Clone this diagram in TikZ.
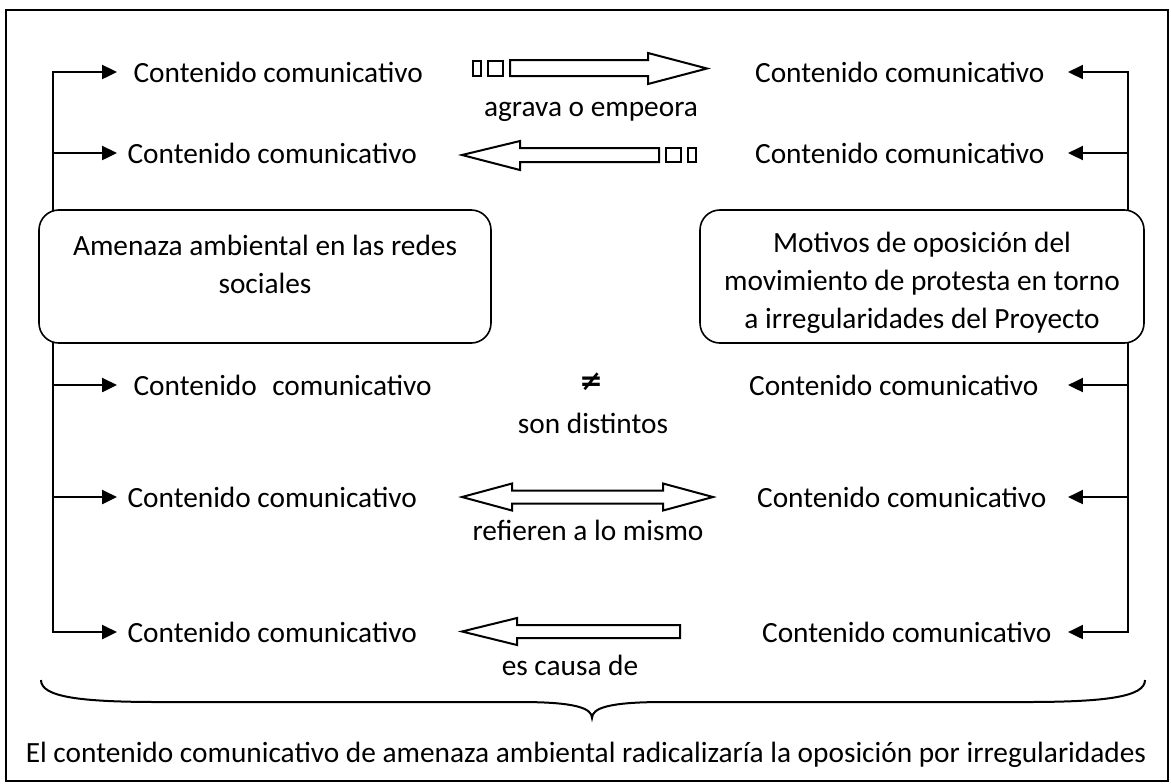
\documentclass[tikz,border=0pt]{standalone}
\usepackage{fontspec}
\setmainfont{Carlito}
\newfontfamily\dejavu{DejaVu Sans}
\usetikzlibrary{arrows.meta}
\begin{document}
\begin{tikzpicture}[x=0.375pt,y=-0.375pt,
  font=\fontsize{11pt}{14.25pt}\selectfont,
  conn/.style={line width=1pt,line cap=rect},
  arr/.style={line width=1pt,-{Triangle[length=5.6pt,width=5.2pt]}},
  lbl/.style={inner sep=0pt},
  rbox/.style={draw,line width=0.6pt,rounded corners=7.5pt,fill=white,inner sep=0pt},
  btext/.style={inner sep=0pt,align=center},
  blk/.style={draw,line width=0.75pt,fill=white,line join=miter},
  frame/.style={draw,line width=0.75pt}]
\useasboundingbox (0,0) rectangle (1171,783);
\draw[frame] (6,10) rectangle (1168,781);

% left column
\coordinate (La) at (53,72);
\coordinate (Lb) at (53,153);
\coordinate (Lc) at (53,385);
\coordinate (Ld) at (53,497);
\coordinate (Le) at (53,632);
\coordinate (Lta) at (117,72);
\coordinate (Ltb) at (117,153);
\coordinate (Ltc) at (117,385);
\coordinate (Ltd) at (117,497);
\coordinate (Lte) at (117,632);
% right column
\coordinate (Ra) at (1128,72);
\coordinate (Rb) at (1128,153);
\coordinate (Rc) at (1128,385);
\coordinate (Rd) at (1128,497);
\coordinate (Re) at (1128,632);
\coordinate (Rta) at (1068,72);
\coordinate (Rtb) at (1068,153);
\coordinate (Rtc) at (1068,385);
\coordinate (Rtd) at (1068,497);
\coordinate (Rte) at (1068,632);

\draw[conn] (La) -- (Le);
\draw[conn] (Ra) -- (Re);
\foreach \s in {a,b,c,d,e}{
  \draw[arr] (L\s) -- (Lt\s);
  \draw[arr] (R\s) -- (Rt\s);
}

% text rows
\node[lbl,anchor=west] (la) at (133,72) {Contenido comunicativo};
\node[lbl,anchor=west] (lb) at (127,153) {Contenido comunicativo};
\node[lbl,anchor=west] (lc) at (133,385) {Contenido\hspace{0.3em} comunicativo};
\node[lbl,anchor=west] (ld) at (127,497) {Contenido comunicativo};
\node[lbl,anchor=west] (le) at (127,632) {Contenido comunicativo};
\node[lbl,anchor=east] (ra) at (1045,72) {Contenido comunicativo};
\node[lbl,anchor=east] (rb) at (1045,153) {Contenido comunicativo};
\node[lbl,anchor=east] (rc) at (1039,385) {Contenido comunicativo};
\node[lbl,anchor=east] (rd) at (1047,497) {Contenido comunicativo};
\node[lbl,anchor=east] (re) at (1052,632) {Contenido comunicativo};

% boxes
\node[rbox,minimum width=169.5pt,minimum height=49.9pt] (lbox) at (265,276.5) {};
\node[btext] (lboxt) at (265,264) {Amenaza ambiental en las redes\\sociales};
\node[rbox,minimum width=166.5pt,minimum height=49.9pt] (rbox) at (922,276.5) {};
\node[btext] (rboxt) at (922,283) {Motivos de oposición del\\movimiento de protesta en torno\\a irregularidades del Proyecto};

% middle block arrows
\draw[blk] (510,60) -- (648,60) -- (648,53) -- (707,68.5) -- (648,84) -- (648,76) -- (510,76) -- cycle;
\draw[blk] (473,61) rectangle (481,76);
\draw[blk] (488,61) rectangle (503,76);
\node[lbl] (m1) at (591,112) {agrava o empeora};

\draw[blk] (462,155) -- (520,141) -- (520,148) -- (659,148) -- (659,162) -- (520,162) -- (520,170) -- cycle;
\draw[blk] (666,148) rectangle (681,162);
\draw[blk] (688,148) rectangle (696,162);

\node[lbl] (neq) at (591,382) {\dejavu\bfseries\fontsize{10.5pt}{10.5pt}\selectfont ≠};
\node[lbl] (m3) at (593,423) {son distintos};

\draw[blk] (462,497) -- (512,483.5) -- (512,490.5) -- (663,490.5) -- (663,483.5) -- (713,497) -- (663,510.5) -- (663,503.5) -- (512,503.5) -- (512,510.5) -- cycle;
\node[lbl] (m4) at (588,530) {refieren a lo mismo};

\draw[blk] (462,631.5) -- (517,618) -- (517,625) -- (680,625) -- (680,638) -- (517,638) -- (517,645) -- cycle;
\node[lbl] (m5) at (570,665) {es causa de};

% brace
\draw[line width=0.75pt] (41,680) .. controls (41,697) and (80,702) .. (160,702) -- (520,702) .. controls (575,702) and (592,708) .. (592,718) .. controls (592,708) and (609,702) .. (664,702) -- (1025,702) .. controls (1105,702) and (1145,697) .. (1145,680);
\node[lbl] (concl) at (586,755) {El contenido comunicativo de amenaza ambiental radicalizaría la oposición por irregularidades};
\end{tikzpicture}
\end{document}
